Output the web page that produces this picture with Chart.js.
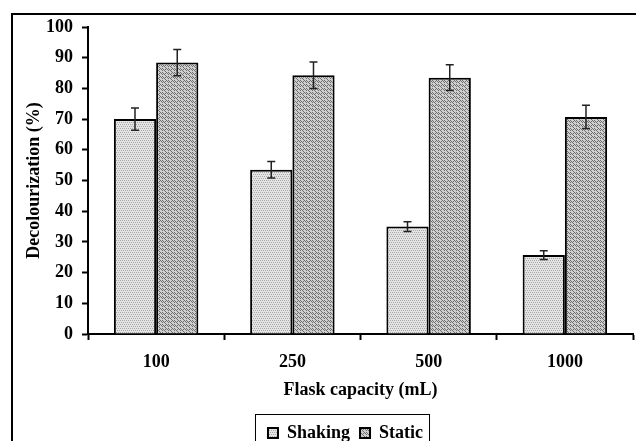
<!DOCTYPE html>
<html>
<head>
<meta charset="utf-8">
<script src="https://cdn.jsdelivr.net/npm/chart.js@4"></script>
<style>
  html, body { margin: 0; padding: 0; background: #fff; overflow: hidden; }
</style>
</head>
<body>
<canvas id="decolChart" width="636" height="456"></canvas>
<script>
// data
const categories = ['100', '250', '500', '1000'];
const shakingValues = [70.0, 53.5, 35.0, 25.7];
const shakingErrors = [3.6, 2.7, 1.6, 1.4];
const staticValues = [88.4, 84.3, 83.5, 70.7];
const staticErrors = [4.3, 4.3, 4.2, 3.8];
const yTicks = [0, 10, 20, 30, 40, 50, 60, 70, 80, 90, 100];

const FONT = "'Liberation Serif', 'Times New Roman', serif";

// fill patterns like the old excel hatches
function makePattern(w, h, bg, fg, dots) {
  const c = document.createElement('canvas');
  c.width = w; c.height = h;
  const g = c.getContext('2d');
  g.fillStyle = bg;
  g.fillRect(0, 0, w, h);
  g.fillStyle = fg;
  dots.forEach(p => g.fillRect(p[0], p[1], 1, 1));
  return g.createPattern(c, 'repeat');
}
const shakingFill = makePattern(4, 4, '#e4e4e4', '#a8a8a8', [[0, 0], [2, 0], [1, 2], [3, 2]]);
const staticFill = makePattern(6, 4, '#cfcfcf', '#6e6e6e', [[0, 0], [1, 1], [2, 2], [3, 1], [4, 0], [5, 1], [0, 2], [3, 3]]);

// outer frame of the figure (only top + left show in the crop)
const framePlugin = {
  id: 'frame',
  beforeDraw(chart) {
    const c = chart.ctx;
    c.save();
    c.strokeStyle = '#000';
    c.lineWidth = 2;
    c.beginPath();
    c.moveTo(12, 460);
    c.lineTo(12, 14);
    c.lineTo(640, 14);
    c.stroke();
    c.restore();
  }
};

// error bars drawn through the y scale
const errorBarPlugin = {
  id: 'errorBars',
  afterDatasetsDraw(chart) {
    const c = chart.ctx;
    const y = chart.scales.y;
    const errs = [shakingErrors, staticErrors];
    c.save();
    c.strokeStyle = '#222';
    c.lineWidth = 1.5;
    chart.data.datasets.forEach((ds, i) => {
      chart.getDatasetMeta(i).data.forEach((bar, j) => {
        const v = ds.data[j];
        const top = y.getPixelForValue(v + errs[i][j]);
        const bot = y.getPixelForValue(v - errs[i][j]);
        c.beginPath();
        c.moveTo(bar.x, top); c.lineTo(bar.x, bot);
        c.moveTo(bar.x - 4, top); c.lineTo(bar.x + 4, top);
        c.moveTo(bar.x - 4, bot); c.lineTo(bar.x + 4, bot);
        c.stroke();
      });
    });
    c.restore();
  }
};

// shift legend to the right and put a box round it
const legendBoxPlugin = {
  id: 'legendBox',
  afterLayout(chart) {
    chart.legend.left += 29;
    chart.legend.right += 29;
  },
  afterDraw(chart) {
    const hb = chart.legend.legendHitBoxes;
    if (!hb || !hb.length) return;
    const left = Math.min(...hb.map(b => b.left)) - 13;
    const right = Math.max(...hb.map(b => b.left + b.width)) + 6;
    const top = hb[0].top - 10;
    const c = chart.ctx;
    c.save();
    c.strokeStyle = '#000';
    c.lineWidth = 1;
    c.strokeRect(left + 0.5, top + 0.5, right - left, 60);
    c.restore();
  }
};

new Chart(document.getElementById('decolChart'), {
  type: 'bar',
  data: {
    labels: categories,
    datasets: [{
      label: 'Shaking',
      data: shakingValues,
      backgroundColor: shakingFill,
      borderColor: '#000',
      borderWidth: 2
    }, {
      label: 'Static',
      data: staticValues,
      backgroundColor: staticFill,
      borderColor: '#000',
      borderWidth: 2
    }]
  },
  options: {
    responsive: false,
    animation: false,
    layout: { padding: { left: 0, right: 3, top: 27, bottom: 4 } },
    datasets: { bar: { categoryPercentage: 0.62, barPercentage: 1.0 } },
    scales: {
      x: {
        afterFit: (s) => { s.height = 80; },
        grid: { display: true, drawOnChartArea: false, offset: true, tickLength: 6, tickWidth: 2, tickColor: '#000' },
        border: { display: true, color: '#000', width: 2 },
        ticks: { color: '#000', padding: 12, font: { family: FONT, size: 18, weight: 'bold' } },
        title: {
          display: true,
          text: 'Flask capacity (mL)',
          color: '#000',
          padding: { top: 0, bottom: 13 },
          font: { family: FONT, size: 18, weight: 'bold' }
        }
      },
      y: {
        min: 0,
        max: 100,
        afterFit: (s) => { s.width = 88; },
        afterBuildTicks: (s) => { s.ticks = yTicks.map(v => ({ value: v })); },
        grid: { display: true, drawOnChartArea: false, tickLength: 6, tickWidth: 2, tickColor: '#000' },
        border: { display: true, color: '#000', width: 2 },
        ticks: { color: '#000', padding: 9, font: { family: FONT, size: 18, weight: 'bold' } },
        title: {
          display: true,
          text: 'Decolourization (%)',
          color: '#000',
          padding: { top: 24, bottom: 0 },
          font: { family: FONT, size: 18, weight: 'bold' }
        }
      }
    },
    plugins: {
      legend: {
        position: 'bottom',
        labels: {
          color: '#000',
          boxWidth: 10,
          boxHeight: 10,
          padding: 10,
          font: { family: FONT, size: 18, weight: 'bold' }
        }
      },
      tooltip: { enabled: false }
    }
  },
  plugins: [framePlugin, errorBarPlugin, legendBoxPlugin]
});
</script>
</body>
</html>
